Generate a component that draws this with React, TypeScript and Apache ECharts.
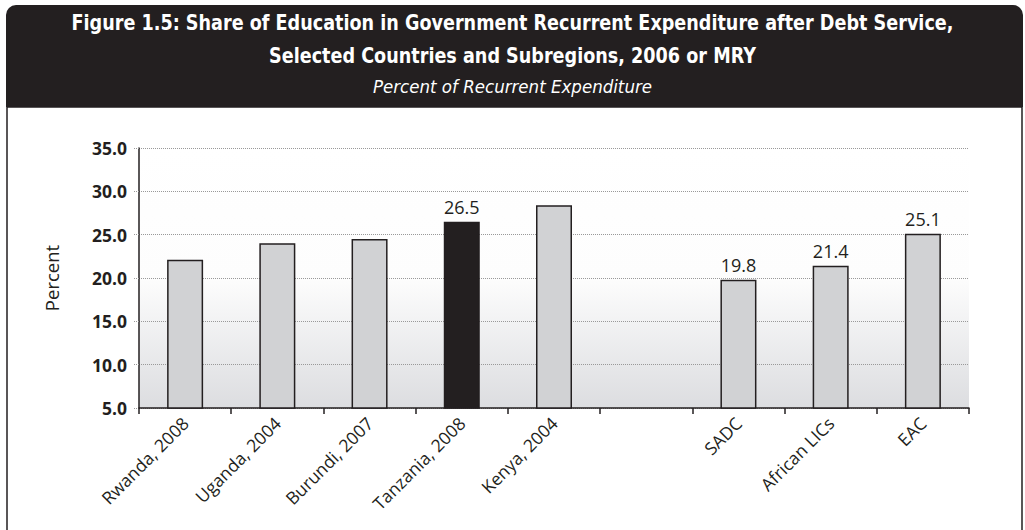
import React, { useEffect, useRef } from "react";
import * as echarts from "echarts";

const categories = [
  "Rwanda, 2008",
  "Uganda, 2004",
  "Burundi, 2007",
  "Tanzania, 2008",
  "Kenya, 2004",
  "",
  "SADC",
  "African LICs",
  "EAC",
];
const values: (number | null)[] = [22.1, 24.0, 24.5, 26.5, 28.4, null, 19.8, 21.4, 25.1];
const labeledCategories = ["Tanzania, 2008", "SADC", "African LICs", "EAC"];
const highlightCategory = "Tanzania, 2008";
const yTicks = { min: 5, max: 35, interval: 5 };
const titleLine1 = "Figure 1.5: Share of Education in Government Recurrent Expenditure after Debt Service,";
const titleLine2 = "Selected Countries and Subregions, 2006 or MRY";
const subtitle = "Percent of Recurrent Expenditure";
const yAxisName = "Percent";

const DARK = "#231f20";
const FONT = "'Open Sans', 'Noto Sans', sans-serif";
const NARROW = "'DejaVu Sans Condensed', 'Open Sans', sans-serif";

export default function App() {
  const ref = useRef<HTMLDivElement>(null);
  useEffect(() => {
    if (!ref.current) return;
    const chart = echarts.init(ref.current, null, { renderer: "svg" });
    const data = categories.map((c, i) => ({
      value: values[i] === null ? "-" : values[i],
      itemStyle: c === highlightCategory ? { color: DARK } : undefined,
      label: { show: labeledCategories.includes(c) },
    }));
    chart.setOption({
      animation: false,
      backgroundColor: "#ffffff",
      graphic: [
        {
          type: "rect",
          shape: { x: 6, y: 5, width: 1017, height: 102, r: [10, 10, 0, 0] },
          style: { fill: DARK },
          z: 0,
        },
        {
          type: "rect",
          shape: { x: 7, y: 107, width: 1015, height: 440 },
          style: { fill: "none", stroke: DARK, lineWidth: 1.5 },
          z: 0,
        },
        {
          type: "text",
          x: 512.5,
          y: 23,
          scaleX: 0.89,
          style: {
            text: titleLine1,
            fill: "#ffffff",
            font: `bold 22px ${NARROW}`,
            align: "center",
            verticalAlign: "middle",
          },
        },
        {
          type: "text",
          x: 512.5,
          y: 55.5,
          scaleX: 0.89,
          style: {
            text: titleLine2,
            fill: "#ffffff",
            font: `bold 22px ${NARROW}`,
            align: "center",
            verticalAlign: "middle",
          },
        },
        {
          type: "text",
          x: 512.5,
          y: 86,
          style: {
            text: subtitle,
            fill: "#ffffff",
            font: `italic 18.5px ${NARROW}`,
            align: "center",
            verticalAlign: "middle",
          },
        },
      ],
      grid: {
        left: 139,
        right: 56,
        top: 148,
        bottom: 122,
        show: true,
        borderWidth: 0,
        backgroundColor: new echarts.graphic.LinearGradient(0, 0, 0, 1, [
          { offset: 0, color: "#ffffff" },
          { offset: 0.5, color: "#fdfdfd" },
          { offset: 1, color: "#dcdde0" },
        ]),
      },
      xAxis: {
        type: "category",
        data: categories,
        axisLine: { lineStyle: { color: DARK, width: 1.5 } },
        axisTick: { show: true, length: 6, lineStyle: { color: DARK, width: 1.5 } },
        axisLabel: {
          rotate: 45,
          interval: 0,
          color: DARK,
          fontFamily: FONT,
          fontSize: 17.5,
          margin: 12,
        },
      },
      yAxis: {
        type: "value",
        min: yTicks.min,
        max: yTicks.max,
        interval: yTicks.interval,
        name: yAxisName,
        nameLocation: "middle",
        nameGap: 78,
        nameRotate: 90,
        nameTextStyle: { color: DARK, fontFamily: FONT, fontSize: 18.5 },
        axisLine: { show: true, lineStyle: { color: DARK, width: 1.5 } },
        axisTick: { show: true, length: 5, lineStyle: { color: "#999999", type: "dotted" } },
        axisLabel: {
          color: DARK,
          fontFamily: FONT,
          fontWeight: "bold",
          fontSize: 17.5,
          margin: 12,
          formatter: (v: number) => v.toFixed(1),
        },
        splitLine: { show: true, lineStyle: { color: "#999999", type: "dotted", width: 1 } },
      },
      series: [
        {
          type: "bar",
          data,
          barWidth: 36,
          itemStyle: { color: "#d1d2d4", borderColor: DARK, borderWidth: 1.5 },
          label: {
            position: "top",
            distance: 6,
            color: DARK,
            fontFamily: FONT,
            fontSize: 18,
            formatter: (p: any) => Number(p.value).toFixed(1),
          },
        },
      ],
    });
    return () => chart.dispose();
  }, []);
  return (
    <div
      ref={ref}
      style={{ position: "fixed", left: 0, top: 0, width: 1025, height: 530 }}
    />
  );
}
